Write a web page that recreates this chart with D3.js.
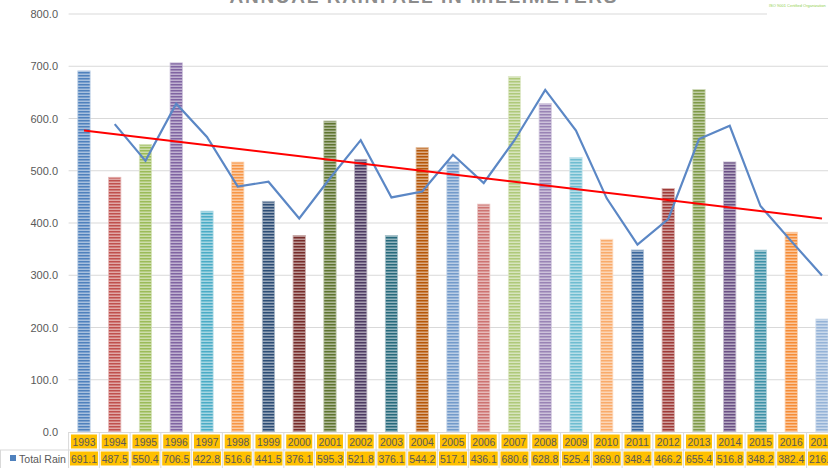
<!DOCTYPE html>
<html lang="en">
<head>
<meta charset="UTF-8">
<title>Annual Rainfall in Millimeters</title>
<style>
  body { margin: 0; background: #fff; overflow: hidden; }
  svg { display: block; font-family: "Liberation Sans", Arial, sans-serif; }
</style>
</head>
<body>
<svg width="828" height="468"></svg>
<script src="https://d3js.org/d3.v7.min.js"></script>
<script>
  // data
  const years = ["1993","1994","1995","1996","1997","1998","1999","2000","2001","2002","2003","2004","2005",
                 "2006","2007","2008","2009","2010","2011","2012","2013","2014","2015","2016","2017"];
  const rain = [691.1,487.5,550.4,706.5,422.8,516.6,441.5,376.1,595.3,521.8,376.1,544.2,517.1,
                436.1,680.6,628.8,525.4,369.0,348.4,466.2,655.4,516.8,348.2,382.4,216.3];
  const barColors = ["#4f81bd","#c0504d","#9bbb59","#8064a2","#4bacc6","#f79646","#2c4d75","#772c2a",
                     "#5f7530","#4d3b62","#276a7c","#b65708","#729aca","#cd7371","#afc97a","#9983b5",
                     "#6fbdd1","#f9ab6b","#3a679c","#9f3b38","#7f9a48","#6a5084","#3f92a8","#f68c36","#95b3d7"];
  const yTicks = [0,100,200,300,400,500,600,700,800];

  const svg = d3.select("svg");
  const left = 68.6, step = 30.75;
  const x = d3.scaleBand().domain(years).range([left, left + step * years.length]).paddingInner(0.6).paddingOuter(0.3);
  const y = d3.scaleLinear().domain([0, 800]).range([432, 14]);
  const grey = "#595959";

  // stripe patterns
  const defs = svg.append("defs");
  barColors.forEach((c, i) => {
    const p = defs.append("pattern").attr("id", "p" + i)
      .attr("width", 4).attr("height", 3).attr("patternUnits", "userSpaceOnUse");
    p.append("rect").attr("width", 4).attr("height", 3).attr("fill", d3.interpolateRgb(c, "#fff")(0.5));
    p.append("rect").attr("width", 4).attr("height", 1.5).attr("fill", c);
  });

  // gridlines
  svg.append("g").selectAll("line").data(yTicks.slice(1)).enter().append("line")
    .attr("x1", left).attr("x2", 828)
    .attr("y1", d => y(d)).attr("y2", d => y(d))
    .attr("stroke", "#d9d9d9").attr("stroke-width", 1);

  // y axis labels
  svg.append("g").selectAll("text").data(yTicks).enter().append("text")
    .attr("x", 58).attr("y", d => y(d) + 4)
    .attr("text-anchor", "end").attr("font-size", 11).attr("fill", grey)
    .text(d => d.toFixed(1));

  // bars
  svg.append("g").selectAll("rect").data(rain).enter().append("rect")
    .attr("x", (d, i) => x(years[i]))
    .attr("width", x.bandwidth())
    .attr("y", d => y(d))
    .attr("height", d => y(0) - y(d))
    .attr("fill", (d, i) => `url(#p${i})`)
    .attr("stroke", (d, i) => d3.interpolateRgb(barColors[i], "#fff")(0.6))
    .attr("stroke-width", 0.8);

  const cx = i => x(years[i]) + x.bandwidth() / 2;

  // 2 period moving average
  const ma = rain.map((v, i) => i === 0 ? null : (v + rain[i - 1]) / 2);
  svg.append("path")
    .datum(ma.map((v, i) => [i, v]).filter(d => d[1] !== null))
    .attr("fill", "none").attr("stroke", "#5b87c5").attr("stroke-width", 2.2)
    .attr("d", d3.line().x(d => cx(d[0])).y(d => y(d[1])));

  // linear trendline
  const n = rain.length;
  const mx = d3.mean(rain, (d, i) => i), my = d3.mean(rain);
  const slope = d3.sum(rain, (d, i) => (i - mx) * (d - my)) / d3.sum(rain, (d, i) => (i - mx) ** 2);
  const icpt = my - slope * mx;
  svg.append("line")
    .attr("x1", cx(0)).attr("y1", y(icpt))
    .attr("x2", cx(n - 1)).attr("y2", y(icpt + slope * (n - 1)))
    .attr("stroke", "#ff0000").attr("stroke-width", 2);

  // data table
  const tbl = svg.append("g");
  const right = left + step * years.length;
  tbl.append("line").attr("x1", left).attr("x2", right).attr("y1", 432.5).attr("y2", 432.5).attr("stroke", "#d9d9d9");
  tbl.append("line").attr("x1", 0).attr("x2", right).attr("y1", 450).attr("y2", 450).attr("stroke", "#d9d9d9");
  d3.range(years.length + 1).forEach(i => {
    tbl.append("line").attr("x1", left + i * step).attr("x2", left + i * step)
      .attr("y1", 432).attr("y2", 468).attr("stroke", "#d9d9d9");
  });
  tbl.append("line").attr("x1", 0.5).attr("x2", 0.5).attr("y1", 450).attr("y2", 468).attr("stroke", "#d9d9d9");

  years.forEach((yr, i) => {
    const c = left + i * step + step / 2;
    tbl.append("rect").attr("x", c - 13).attr("y", 434.5).attr("width", 26).attr("height", 14).attr("fill", "#ffc000");
    tbl.append("text").attr("x", c).attr("y", 446).attr("text-anchor", "middle")
      .attr("font-size", 11.5).attr("fill", grey)
      .attr("textLength", 23).attr("lengthAdjust", "spacingAndGlyphs").text(yr);
    tbl.append("rect").attr("x", c - 14).attr("y", 451.5).attr("width", 28).attr("height", 14).attr("fill", "#ffc000");
    tbl.append("text").attr("x", c).attr("y", 463).attr("text-anchor", "middle")
      .attr("font-size", 11.5).attr("fill", grey)
      .attr("textLength", 26).attr("lengthAdjust", "spacingAndGlyphs").text(rain[i].toFixed(1));
  });

  // legend key
  tbl.append("rect").attr("x", 10).attr("y", 455).attr("width", 6).attr("height", 6).attr("fill", "#4f81bd");
  tbl.append("text").attr("x", 19).attr("y", 463).attr("font-size", 11).attr("fill", grey)
    .attr("textLength", 47).attr("lengthAdjust", "spacingAndGlyphs").text("Total Rain");

  // title (cut at the top)
  svg.append("text").attr("x", 423).attr("y", 3).attr("text-anchor", "middle")
    .attr("font-size", 19).attr("font-weight", "bold").attr("fill", "#8c8c8c")
    .attr("textLength", 387).attr("lengthAdjust", "spacing")
    .text("ANNUAL RAINFALL IN MILLIMETERS");

  // small logo box in the corner
  svg.append("rect").attr("x", 767).attr("y", 0).attr("width", 61).attr("height", 18).attr("fill", "#fff");
  svg.append("text").attr("x", 769).attr("y", 7).attr("font-size", 4).attr("fill", "#92d050")
    .text("ISO 9001 Certified Organization");
</script>
</body>
</html>
